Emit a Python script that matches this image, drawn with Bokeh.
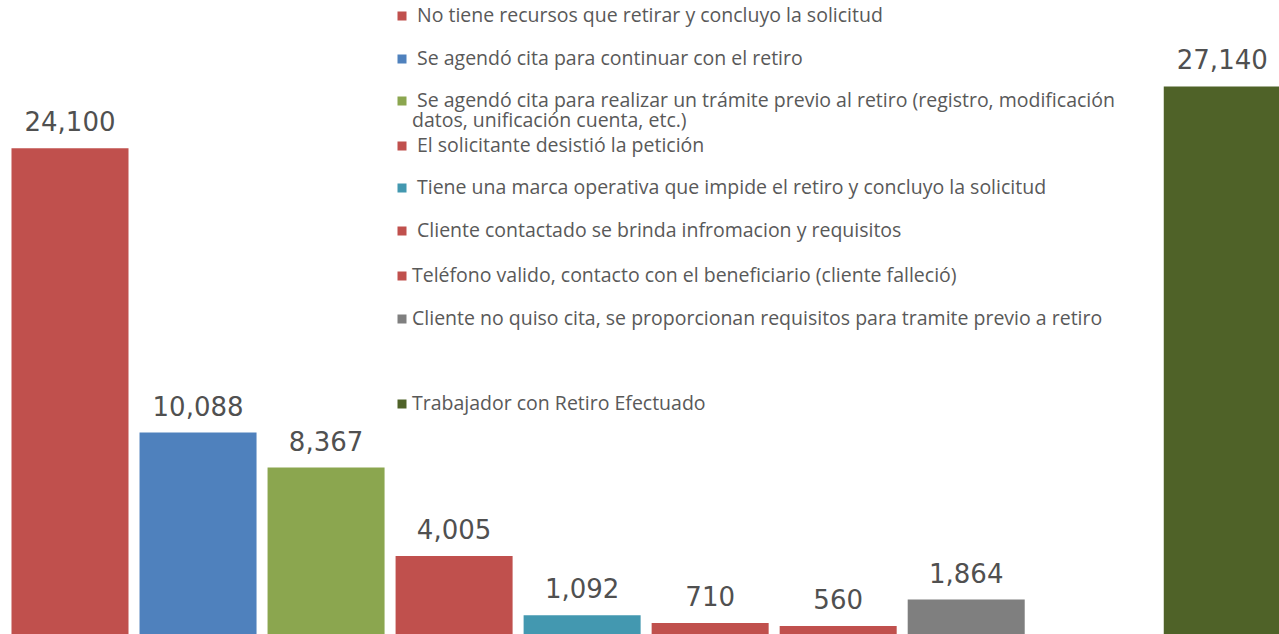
import math
from bokeh.plotting import figure
from bokeh.models import Range1d, ColumnDataSource
from bokeh.core.properties import value
from bokeh.embed import file_html
from bokeh.resources import INLINE

# ---------------- data ----------------
categories = [
    "No tiene recursos que retirar y concluyo la solicitud",
    "Se agendó cita para continuar con el retiro",
    "Se agendó cita para realizar un trámite previo al retiro (registro, modificación\ndatos, unificación cuenta, etc.)",
    "El solicitante desistió la petición",
    "Tiene una marca operativa que impide el retiro y concluyo la solicitud",
    "Cliente contactado se brinda infromacion y requisitos",
    "Teléfono valido, contacto con el beneficiario (cliente falleció)",
    "Cliente no quiso cita, se proporcionan requisitos para tramite previo a retiro",
    "",
    "Trabajador con Retiro Efectuado",
]
values = [24100, 10088, 8367, 4005, 1092, 710, 560, 1864, float("nan"), 27140]
value_labels = ["24,100", "10,088", "8,367", "4,005", "1,092", "710", "560", "1,864", "", "27,140"]
leading_space = [True, True, True, True, True, True, False, False, False, False]

# ---------------- style ----------------
colors = ["#C0504D", "#4F81BD", "#8BA64F", "#C0504D", "#4398B0",
          "#C0504D", "#C0504D", "#7F7F7F", "#FFFFFF", "#4F6228"]

W, H = 1279, 634
PX_PER_CAT = 128.03
X0 = -69.5 / PX_PER_CAT
X1 = X0 + W / PX_PER_CAT
PX_PER_UNIT = 0.0203
ZERO_PIX = 636.9            # pixel row of value 0
Y1 = ZERO_PIX / PX_PER_UNIT
Y0 = (ZERO_PIX - H) / PX_PER_UNIT
TEXT_SHIFT = 7.5            # compensation for text baseline placement


def px_x(px):
    return X0 + px / PX_PER_CAT


def px_y(py):
    return (ZERO_PIX - py) / PX_PER_UNIT


p = figure(width=W, height=H, output_backend="svg", toolbar_location=None,
           x_range=Range1d(X0, X1), y_range=Range1d(Y0, Y1),
           x_axis_type=None, y_axis_type=None, min_border=0)
p.grid.visible = False
p.outline_line_color = None
p.background_fill_color = "white"
p.border_fill_color = "white"

idx = list(range(len(categories)))
bar_src = ColumnDataSource(dict(x=idx, top=values, color=colors))
p.vbar(x="x", top="top", bottom=0, width=0.914, fill_color="color",
       line_color=None, source=bar_src)

lab_x = [i for i, v in zip(idx, values) if not math.isnan(v)]
lab_y = [v for v in values if not math.isnan(v)]
lab_t = [t for t, v in zip(value_labels, values) if not math.isnan(v)]
p.text(x=lab_x, y=lab_y, text=lab_t, y_offset=-27, text_align="center",
       text_baseline="alphabetic", text_font=value("DejaVu Sans"),
       text_font_size="26px", text_color="#505050")

# ---------------- legend (manual) ----------------
legend_baselines = [21, 64, 106, 151, 193, 236, 281, 324, 367, 409]
second_line_gap = 20.5
mk_x, mk_y, mk_c = [], [], []
tx, ty, tt = [], [], []
for name, col, base, sp in zip(categories, colors, legend_baselines, leading_space):
    if not name:
        continue
    mk_x.append(px_x(401.5))
    mk_y.append(px_y(base - 5.5))
    mk_c.append(col)
    lines = name.split("\n")
    tx.append(px_x(416.5 if sp else 411.5))
    ty.append(px_y(base - TEXT_SHIFT))
    tt.append(lines[0])
    for k, extra in enumerate(lines[1:], start=1):
        tx.append(px_x(411.5))
        ty.append(px_y(base + second_line_gap * k - TEXT_SHIFT))
        tt.append(extra)

p.scatter(x=mk_x, y=mk_y, marker="square", size=9, fill_color=mk_c, line_color=None)
p.text(x=tx, y=ty, text=tt, text_align="left", text_baseline="alphabetic",
       text_font=value("Open Sans"), text_font_size="19.5px", text_color="#595959")

open("out.html", "w").write(file_html(p, INLINE))
